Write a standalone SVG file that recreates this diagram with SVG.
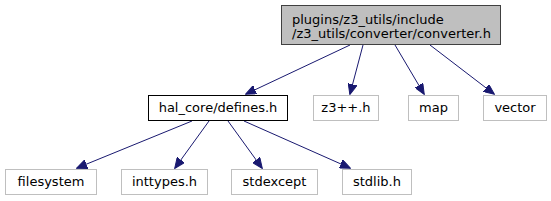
<svg xmlns="http://www.w3.org/2000/svg" width="551" height="201" viewBox="0 0 551 201">
<style>
text{font-family:"DejaVu Sans",sans-serif;font-size:13px;fill:#000;text-anchor:middle}
.ext{fill:#fff;stroke:#bfbfbf}
.e{stroke:#191970;fill:none}
</style>
<defs>
<marker id="a" markerWidth="11" markerHeight="9" refX="10" refY="4.5" orient="auto" markerUnits="userSpaceOnUse">
<path d="M0,0 L10.5,4.5 L0,9 Z" fill="#191970" stroke="#191970"/>
</marker>
</defs>
<rect width="551" height="201" fill="#fff"/>
<g id="connectors">
<path class="e" d="M350,45 L246,94" marker-end="url(#a)"/>
<path class="e" d="M363,45 L350,94" marker-end="url(#a)"/>
<path class="e" d="M395,45 L424,94" marker-end="url(#a)"/>
<path class="e" d="M430,45 L494,94" marker-end="url(#a)"/>
<path class="e" d="M192,121 L77,168" marker-end="url(#a)"/>
<path class="e" d="M209,121 L175,168" marker-end="url(#a)"/>
<path class="e" d="M228,121 L262,168" marker-end="url(#a)"/>
<path class="e" d="M244,121 L350,168" marker-end="url(#a)"/>
</g>
<g id="converter">
<rect x="281.5" y="5.5" width="219" height="39" fill="#bfbfbf" stroke="#404040"/>
<text x="292" y="24" style="text-anchor:start">plugins/z3_utils/include</text>
<text x="292" y="38" style="text-anchor:start">/z3_utils/converter/converter.h</text>
</g>
<g id="defines">
<rect x="148.5" y="95.5" width="139" height="25" fill="#fff" stroke="#000"/>
<text x="218" y="112">hal_core/defines.h</text>
</g>
<g id="z3pp">
<rect class="ext" x="313.5" y="95.5" width="65" height="25"/>
<text x="346" y="112">z3++.h</text>
</g>
<g id="map">
<rect class="ext" x="408.5" y="95.5" width="50" height="25"/>
<text x="433.5" y="112">map</text>
</g>
<g id="vector">
<rect class="ext" x="483.5" y="95.5" width="63" height="25"/>
<text x="515" y="112">vector</text>
</g>
<g id="filesystem">
<rect class="ext" x="5.5" y="169.5" width="91" height="25"/>
<text x="51" y="186">filesystem</text>
</g>
<g id="inttypes">
<rect class="ext" x="121.5" y="169.5" width="86" height="25"/>
<text x="164.5" y="186">inttypes.h</text>
</g>
<g id="stdexcept">
<rect class="ext" x="231.5" y="169.5" width="86" height="25"/>
<text x="274.5" y="186">stdexcept</text>
</g>
<g id="stdlib">
<rect class="ext" x="342.5" y="169.5" width="69" height="25"/>
<text x="377" y="186">stdlib.h</text>
</g>
</svg>
